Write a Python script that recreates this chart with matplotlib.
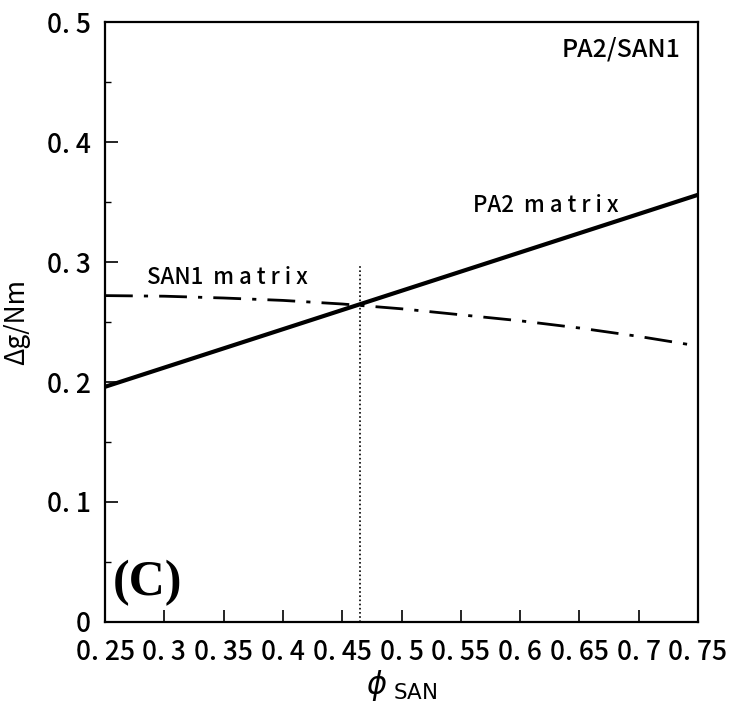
import numpy as np
import matplotlib
matplotlib.use('Agg')
import matplotlib.pyplot as plt
from matplotlib.ticker import MultipleLocator

plt.rcParams['font.family'] = ['Noto Sans CJK JP', 'DejaVu Sans']
plt.rcParams['font.weight'] = 'medium'

# data
phi_pa2 = [0.25, 0.75]
dg_pa2 = [0.196, 0.356]

phi_san1 = [0.25, 0.30, 0.35, 0.40, 0.45, 0.50, 0.55, 0.60, 0.65, 0.70, 0.75]
dg_san1 = [0.272, 0.2715, 0.270, 0.268, 0.265, 0.261, 0.256, 0.251, 0.245, 0.238, 0.230]

phi_cross = 0.465
dg_cross_top = 0.297

xticks = [0.25, 0.3, 0.35, 0.4, 0.45, 0.5, 0.55, 0.6, 0.65, 0.7, 0.75]
xlabels = ['0. 25', '0. 3', '0. 35', '0. 4', '0. 45', '0. 5', '0. 55', '0. 6', '0. 65', '0. 7', '0. 75']
yticks = [0, 0.1, 0.2, 0.3, 0.4, 0.5]
ylabels = ['0', '0. 1', '0. 2', '0. 3', '0. 4', '0. 5']

fig = plt.figure(figsize=(7.31, 7.17), dpi=100)
ax = fig.add_axes([105/731, 1 - 622/717, 593/731, 600/717])

ax.plot(phi_pa2, dg_pa2, color='black', lw=3.0, solid_capstyle='butt')
ax.plot(phi_san1, dg_san1, color='black', lw=2.0, dashes=(10, 4, 1.5, 4))
ax.plot([phi_cross, phi_cross], [0, dg_cross_top], color='black', lw=1.2, dashes=(1, 1.5))

ax.set_xlim(0.25, 0.75)
ax.set_ylim(0, 0.5)
ax.set_xticks(xticks)
ax.set_xticklabels(xlabels)
ax.set_yticks(yticks)
ax.set_yticklabels(ylabels)
ax.yaxis.set_minor_locator(MultipleLocator(0.05))

ax.tick_params(axis='both', which='major', direction='in', length=9, width=1.2,
               labelsize=19, top=False, right=False)
ax.tick_params(axis='x', which='major', pad=12)
ax.tick_params(axis='y', which='major', pad=10)
ax.tick_params(axis='y', which='minor', direction='in', length=4, width=1.0, right=False)
for s in ax.spines.values():
    s.set_linewidth(1.6)

ax.text(0.97, 0.955, 'PA2/SAN1', transform=ax.transAxes, ha='right', va='center', fontsize=18)
ax.text(0.56, 0.3475, 'PA2  m a t r i x', ha='left', va='center', fontsize=16)
ax.text(0.285, 0.287, 'SAN1  m a t r i x', ha='left', va='center', fontsize=16)
ax.text(0.2565, 0.0325, '(C)', ha='left', va='center', fontsize=36, fontweight='bold',
        family='Liberation Serif')

ax.set_ylabel('Δg/Nm', fontsize=19, labelpad=12)
ax.set_xlabel(r'$\phi$ $_{\mathrm{SAN}}$', fontsize=22, labelpad=2)

fig.savefig('out.png', dpi=100)
